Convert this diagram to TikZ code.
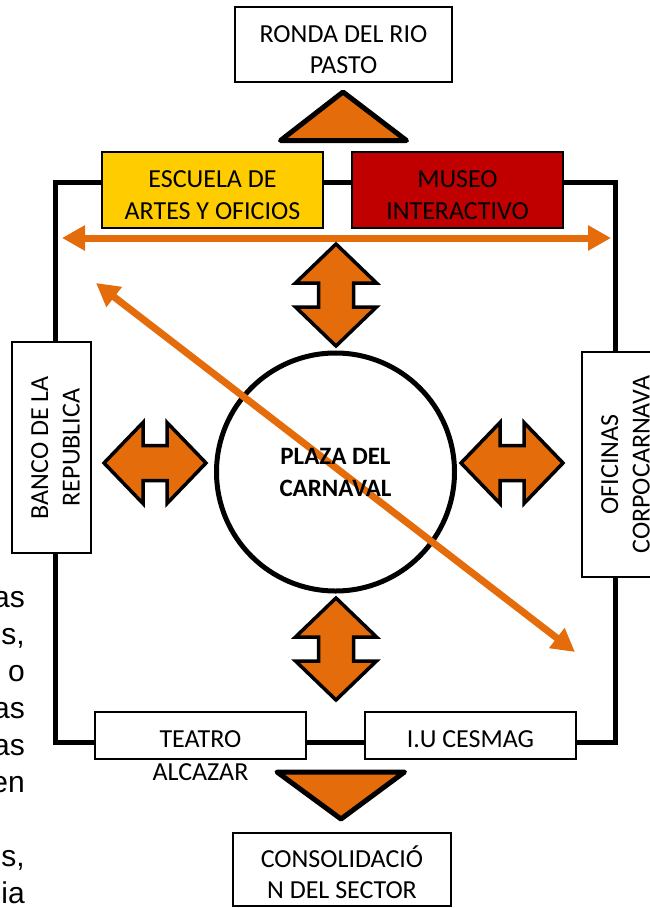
\documentclass[tikz,border=0pt]{standalone}
\usepackage{fontspec}
\setmainfont{Carlito}
\newfontfamily\arialfont{Liberation Sans}
\usetikzlibrary{positioning, arrows.meta}
\definecolor{naranja}{HTML}{E46C0A}
\definecolor{amarillo}{HTML}{FFCC00}
\definecolor{rojo}{HTML}{C00000}

\tikzset{
    pics/dobleflecha/.style={code={
        \draw[bloque] (0,-51) -- (40.5,-12) -- (17.5,-12) -- (17.5,12) -- (40.5,12) -- (0,51)
            -- (-40.5,12) -- (-17.5,12) -- (-17.5,-12) -- (-40.5,-12) -- cycle;
    }}
}

\begin{document}
\begin{tikzpicture}[
        x=1pt, y=-1pt,
        font=\fontsize{26}{31.5}\selectfont,
        caja/.style={rectangle, draw, line width=1.4pt, fill=white, align=center, inner sep=0pt, text height=58.2pt},
        caja1/.style={caja, text height=23.7pt},
        vertical/.style={caja, rotate=90, text height=56.2pt},
        plaza/.style={circle, draw, line width=5pt, minimum size=238pt, inner sep=0pt},
        marco/.style={line width=5pt},
        bloque/.style={draw, line width=3.5pt, fill=naranja},
        punta/.style={draw, line width=5pt, fill=naranja, line join=round},
        flecha/.style={naranja, line width=7pt, {Triangle[length=23pt, width=24pt]}-{Triangle[length=23pt, width=24pt]}}
    ]
        \useasboundingbox (0,0) rectangle (649,908);

        % Marco
        \draw [marco] (55,182) rectangle (615,742);

        % Nodes
        \node [caja, minimum width=217pt, minimum height=75pt] (ronda) at (343.5,44.5) {RONDA DEL RIO\\PASTO};
        \node [caja, fill=amarillo, minimum width=221pt, minimum height=76pt] (escuela) at (212.5,190) {ESCUELA DE\\ARTES Y OFICIOS};
        \node [caja, fill=rojo, minimum width=211pt, minimum height=76pt] (museo) at (457.5,190) {MUSEO\\INTERACTIVO};
        \node [vertical, minimum width=211pt, minimum height=79pt] (banco) at (51.5,447.5) {BANCO DE LA\\REPUBLICA};
        \node [vertical, minimum width=225pt, minimum height=79pt] (oficinas) at (621.5,464.5) {OFICINAS\\CORPOCARNAVA};
        \node [caja1, minimum width=211pt, minimum height=47pt,
               label={[inner sep=0pt, label distance=3.6pt]below:ALCAZAR}] (teatro) at (200.5,735.5) {TEATRO};
        \node [caja1, minimum width=211pt, minimum height=47pt] (cesmag) at (470.5,735.5) {I.U CESMAG};
        \node [caja, minimum width=218pt, minimum height=73pt] (consolidacion) at (342,869.5) {CONSOLIDACIÓ\\N DEL SECTOR};

        \node [plaza] (plaza) at (335.5,472) {};

        % Texto cortado al margen
        \node [anchor=south east, align=right, inner sep=0pt,
               font=\arialfont\fontsize{30}{37}\selectfont] (margen) at (25,904)
              {as\\s,\\o\\as\\as\\en\\~\\s,\\ia};

        % Edges
        \coordinate (izq) at (62,238);
        \coordinate (der) at (611,238);
        \coordinate (diag1) at (96,283);
        \coordinate (diag2) at (575,652);
        \draw [flecha] (izq) -- (der);
        \draw [flecha] (diag1) -- (diag2);

        \node [font=\bfseries\fontsize{25}{32}\selectfont, align=center] (plazatexto) at (plaza) {PLAZA DEL\\CARNAVAL};

        % Flechas de bloque
        \pic at (336,295) {dobleflecha};
        \pic at (336,649) {dobleflecha};
        \pic [rotate=90] at (155,463) {dobleflecha};
        \pic [rotate=90] at (512,463) {dobleflecha};

        \draw [punta] (343,92) -- (406.5,140.5) -- (280.5,140.5) -- cycle;
        \draw [punta] (277,772) -- (404.5,772) -- (341,819) -- cycle;

    \end{tikzpicture}
\end{document}
